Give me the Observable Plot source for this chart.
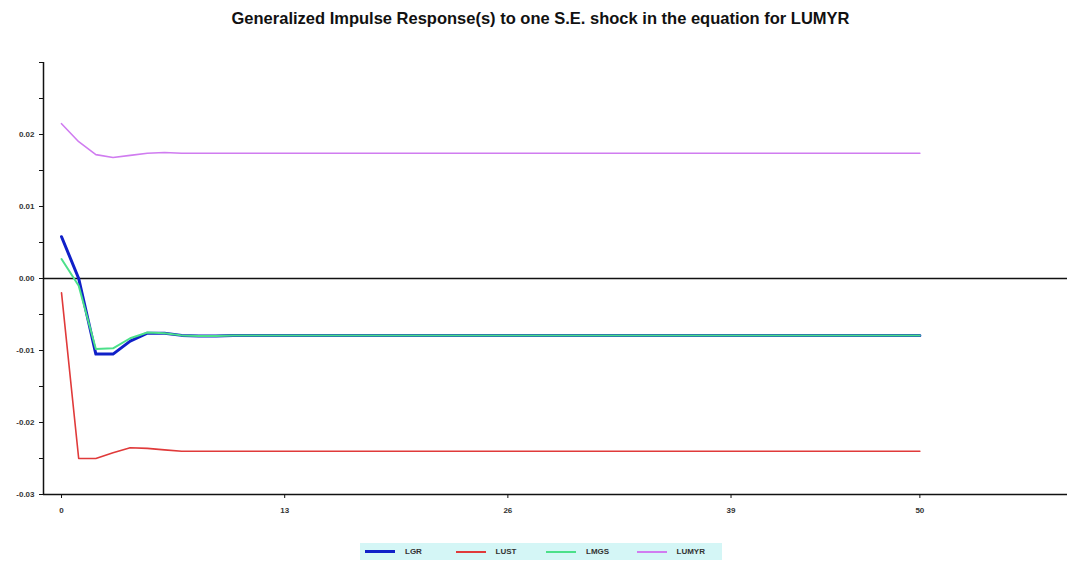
<!DOCTYPE html>
<html>
<head>
<meta charset="utf-8">
<script src="https://cdn.jsdelivr.net/npm/d3@7"></script>
<script src="https://cdn.jsdelivr.net/npm/@observablehq/plot@0.6"></script>
<style>
  body { margin: 0; background: #fff; font-family: "Liberation Sans", Arial, sans-serif; }
  #title { height: 40px; text-align: center; font-weight: bold; font-size: 16.5px; line-height: 36px; color: #111; padding-left: 14px; }
  #legend { position: absolute; left: 360px; top: 543px; width: 362px; height: 17px; background: #d4f6f6;
            display: flex; align-items: center; font-size: 8px; font-weight: bold; color: #333; }
  .item { display: flex; align-items: center; margin-left: 5px; width: 86px; }
  .sw { width: 30px; margin-right: 10px; }
</style>
</head>
<body>
<div id="title">Generalized Impulse Response(s) to one S.E. shock in the equation for LUMYR</div>
<div id="chart"></div>
<div id="legend"></div>
<script>
const horizons = d3.range(0, 51);
const seriesNames = ["LGR", "LUST", "LMGS", "LUMYR"];
const seriesColors = ["#1020c8", "#e03a3a", "#4ce08a", "#d07cf0"];
const seriesWidths = [3, 1.6, 2, 1.6];
const lgrHead   = [0.0058, 0.0000, -0.0105, -0.0105, -0.0087, -0.0076, -0.0076, -0.0079, -0.0080, -0.0080, -0.0079];
const lgrTail   = -0.0079;
const lustHead  = [-0.0020, -0.0250, -0.0250, -0.0242, -0.0235, -0.0236, -0.0238, -0.0240, -0.0240, -0.0240, -0.0240];
const lustTail  = -0.0240;
const lmgsHead  = [0.0027, -0.0010, -0.0098, -0.0097, -0.0083, -0.0075, -0.0076, -0.0079, -0.0080, -0.0080, -0.0079];
const lmgsTail  = -0.0079;
const lumyrHead = [0.0215, 0.0190, 0.0172, 0.0168, 0.0171, 0.0174, 0.0175, 0.0174, 0.0174, 0.0174, 0.0174];
const lumyrTail = 0.0174;
const yTicksMajor = [-0.03, -0.02, -0.01, 0.00, 0.01, 0.02];
const yTicksMinor = [-0.03, -0.025, -0.02, -0.015, -0.01, -0.005, 0, 0.005, 0.01, 0.015, 0.02, 0.025, 0.03];
const xTicks = [0, 13, 26, 39, 50];
const xDomain = [-1.05, 58.6];
const yDomain = [-0.03, 0.03];

const heads = [lgrHead, lustHead, lmgsHead, lumyrHead];
const tails = [lgrTail, lustTail, lmgsTail, lumyrTail];
const rows = [];
seriesNames.forEach((name, i) => {
  horizons.forEach(h => rows.push({series: name, h, v: h < heads[i].length ? heads[i][h] : tails[i]}));
});

const lineMarks = seriesNames.map((name, i) =>
  Plot.line(rows.filter(d => d.series === name), {x: "h", y: "v", stroke: seriesColors[i], strokeWidth: seriesWidths[i]})
);

const chart = Plot.plot({
  width: 1067, height: 490,
  marginTop: 22, marginBottom: 36, marginLeft: 43, marginRight: 0,
  style: {fontFamily: "'Liberation Sans Narrow', 'Liberation Sans', sans-serif", fontSize: "8px", fontWeight: "bold", color: "#333"},
  x: {domain: xDomain, label: null},
  y: {domain: yDomain, label: null},
  marks: [
    Plot.ruleY([0], {stroke: "#111", strokeWidth: 1.3}),
    ...lineMarks,
    Plot.ruleX([xDomain[0]], {stroke: "#111", strokeWidth: 1.5}),
    Plot.ruleY([yDomain[0]], {stroke: "#111", strokeWidth: 1.5}),
    Plot.axisY({ticks: yTicksMinor, tickSize: 4, tickFormat: () => "", stroke: "#111", label: null}),
    Plot.axisY({ticks: yTicksMajor, tickSize: 0, tickPadding: 9, tickFormat: d => d3.format(".2f")(d).replace("−", "-"), label: null}),
    Plot.axisX({ticks: xTicks, tickSize: 4, tickPadding: 9, tickFormat: d => String(d), stroke: "#111", label: null})
  ]
});
document.getElementById("chart").appendChild(chart);

const legend = document.getElementById("legend");
seriesNames.forEach((name, i) => {
  const it = document.createElement("div");
  it.className = "item";
  const sw = document.createElement("div");
  sw.className = "sw";
  sw.style.borderTop = `${Math.max(2, seriesWidths[i] + 0.5)}px solid ${seriesColors[i]}`;
  const lab = document.createElement("span");
  lab.textContent = name;
  it.appendChild(sw); it.appendChild(lab);
  legend.appendChild(it);
});
</script>
</body>
</html>
